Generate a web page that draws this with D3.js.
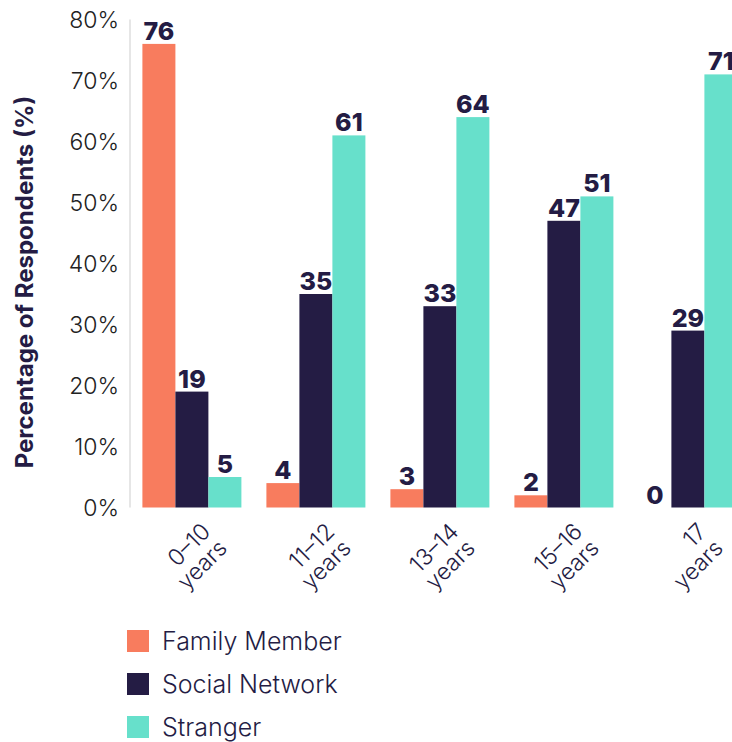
<!DOCTYPE html>
<html><head><meta charset="utf-8">
<script src="https://cdn.jsdelivr.net/npm/d3@7"></script>
<style>body{margin:0;background:#fff;overflow:hidden;} svg{display:block;}</style>
</head><body>
<svg id="chart" width="732" height="742"></svg>
<script>
const categories = [["0–10","years"],["11–12","years"],["13–14","years"],["15–16","years"],["17","years"]];
const seriesNames = ["Family Member","Social Network","Stranger"];
const familyMember = [76, 4, 3, 2, 0];
const socialNetwork = [19, 35, 33, 47, 29];
const stranger = [5, 61, 64, 51, 71];
const yTicks = [0,10,20,30,40,50,60,70,80];
const colors = ["#F87C5E","#241C44","#67E0CB"];
const yTitle = "Percentage of Respondents (%)";

const seriesValues = [familyMember, socialNetwork, stranger];
const svg = d3.select("#chart");
const font = "Inter, 'Noto Sans', sans-serif";
const navy = "#241C44";

const catKeys = categories.map(c => c.join(" "));
const x = d3.scaleBand().domain(catKeys).range([130, 749.8]).paddingInner(25/124).paddingOuter(0.1);
const xs = d3.scaleBand().domain(seriesNames).range([0, x.bandwidth()]).padding(0);
const y = d3.scaleLinear().domain([0, 80]).range([507.5, 19.5]);

// axis line
svg.append("line").attr("x1",130).attr("x2",130).attr("y1",y(80)).attr("y2",y(0))
  .attr("stroke","#e6e6e6").attr("stroke-width",2);

// y ticks
svg.append("g").selectAll("text").data(yTicks).join("text")
  .attr("x",119).attr("y",d=>y(d)).attr("dy","0.38em")
  .attr("text-anchor","end").attr("font-family",font).attr("font-size",23).attr("font-weight",300)
  .attr("fill","#222").text(d=>d+"%");

// y title
svg.append("text").attr("transform",`translate(33,${282}) rotate(-90)`)
  .attr("text-anchor","middle").attr("font-family",font).attr("font-size",24).attr("font-weight",700)
  .attr("fill",navy).text(yTitle);

// bars
const groups = svg.append("g").selectAll("g").data(catKeys).join("g")
  .attr("transform",d=>`translate(${x(d)},0)`);
groups.each(function(cat, i){
  const g = d3.select(this);
  seriesNames.forEach((s, j) => {
    const v = seriesValues[j][i];
    g.append("rect").attr("x", xs(s)).attr("width", xs.bandwidth())
      .attr("y", y(v)).attr("height", y(0)-y(v)).attr("fill", colors[j]);
    g.append("text").attr("x", xs(s)+xs.bandwidth()/2).attr("y", y(v)-4)
      .attr("text-anchor","middle").attr("font-family",font).attr("font-size",25).attr("font-weight",800)
      .attr("fill",navy).text(v);
  });
});

// x labels
svg.append("g").selectAll("text").data(categories).join("text")
  .attr("transform",(d,i)=>`translate(${x(catKeys[i])+x.bandwidth()/2+20},${533}) rotate(-45)`)
  .attr("text-anchor","end").attr("font-family",font).attr("font-size",23).attr("font-weight",300)
  .attr("fill",navy)
  .each(function(d){
    const t = d3.select(this);
    d.forEach((line,k)=>{
      t.append("tspan").attr("x",0).attr("dy", k===0 ? 0 : "1.02em").text(line);
    });
  });

// legend
const leg = svg.append("g").selectAll("g").data(seriesNames).join("g")
  .attr("transform",(d,i)=>`translate(127,${630+i*43})`);
leg.append("rect").attr("width",22).attr("height",22).attr("fill",(d,i)=>colors[i]);
leg.append("text").attr("x",35).attr("y",11).attr("dy","0.37em")
  .attr("font-family",font).attr("font-size",25).attr("font-weight",300)
  .attr("fill",navy).text(d=>d);
</script>
</body></html>
